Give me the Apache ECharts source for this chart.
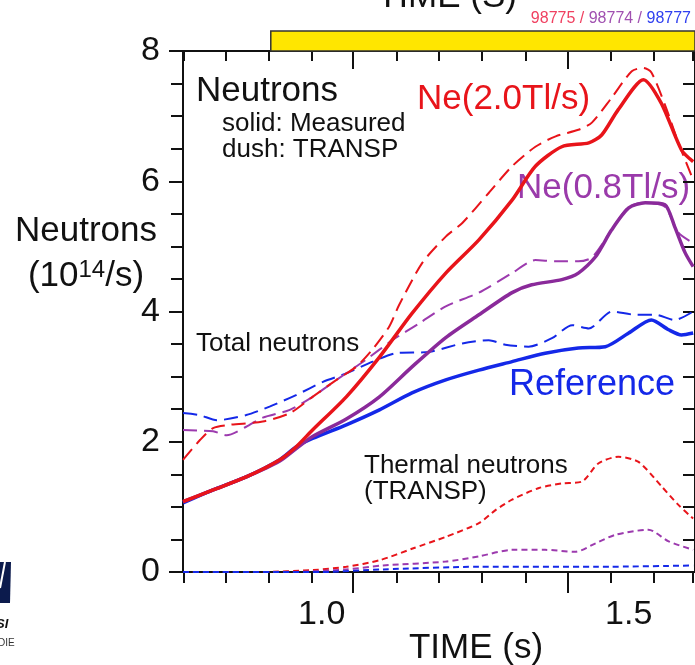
<!DOCTYPE html>
<html><head><meta charset="utf-8">
<script src="https://cdn.jsdelivr.net/npm/echarts@6/dist/echarts.min.js"></script>
<style>html,body{margin:0;padding:0;background:#fff}#c{width:695px;height:665px}</style>
</head><body><div id="c"></div>
<script>
// ---- axes ----
const xMin = 0.774, xMax = 1.608;
const xLabelValues = [1.0, 1.5];
const xTickValues = [0.775, 0.843, 0.914, 0.984, 1.051, 1.122, 1.190, 1.261, 1.332, 1.401, 1.470, 1.541, 1.604];
const xLongTickValues = [1.051, 1.401];
const yMin = 0, yMax = 8, yLabelStep = 2;
const beamWindow = [0.917, 1.608];

// ---- series: [time (s), neutrons (1e14/s)] ----
const ne20Measured = [[0.774,1.08],[0.823,1.26],[0.877,1.46],[0.931,1.72],[0.958,1.92],[0.985,2.18],[1.040,2.69],[1.094,3.30],[1.147,3.97],[1.202,4.59],[1.256,5.10],[1.310,5.71],[1.348,6.23],[1.391,6.53],[1.435,6.59],[1.456,6.71],[1.483,7.10],[1.524,7.56],[1.553,7.20],[1.586,6.48],[1.605,6.30]];
const ne20Transp = [[0.774,1.72],[0.802,2.03],[0.823,2.21],[0.850,2.26],[0.904,2.31],[0.948,2.44],[0.985,2.69],[1.024,2.95],[1.056,3.15],[1.082,3.41],[1.110,3.77],[1.126,4.10],[1.164,4.75],[1.202,5.15],[1.229,5.36],[1.272,5.82],[1.310,6.23],[1.348,6.53],[1.381,6.69],[1.418,6.79],[1.440,6.90],[1.472,7.28],[1.505,7.69],[1.524,7.74],[1.537,7.67],[1.560,7.15],[1.581,6.59],[1.605,6.02]];
const ne08Measured = [[0.774,1.08],[0.823,1.26],[0.877,1.46],[0.931,1.70],[0.959,1.90],[0.985,2.08],[1.040,2.35],[1.094,2.69],[1.147,3.15],[1.202,3.60],[1.256,3.95],[1.310,4.29],[1.342,4.41],[1.391,4.49],[1.418,4.59],[1.446,4.84],[1.472,5.25],[1.500,5.59],[1.527,5.67],[1.559,5.64],[1.575,5.30],[1.592,4.90],[1.605,4.69]];
const ne08Transp = [[0.774,2.18],[0.823,2.16],[0.845,2.10],[0.877,2.23],[0.904,2.37],[0.948,2.49],[0.985,2.69],[1.024,2.95],[1.072,3.26],[1.115,3.56],[1.159,3.82],[1.202,4.08],[1.256,4.29],[1.310,4.59],[1.348,4.79],[1.381,4.77],[1.418,4.77],[1.440,4.83],[1.472,5.25],[1.500,5.61],[1.527,5.67],[1.559,5.61],[1.581,5.21],[1.605,5.05]];
const refMeasured = [[0.774,1.06],[0.823,1.26],[0.877,1.46],[0.931,1.72],[0.958,1.92],[0.985,2.05],[1.040,2.26],[1.094,2.49],[1.147,2.75],[1.202,2.95],[1.256,3.10],[1.310,3.23],[1.364,3.36],[1.418,3.44],[1.462,3.46],[1.500,3.67],[1.537,3.87],[1.565,3.72],[1.586,3.64],[1.605,3.67]];
const refTransp = [[0.774,2.44],[0.801,2.41],[0.829,2.33],[0.877,2.41],[0.915,2.54],[0.959,2.72],[1.002,2.92],[1.040,3.05],[1.083,3.23],[1.121,3.36],[1.175,3.38],[1.229,3.51],[1.272,3.56],[1.299,3.49],[1.337,3.46],[1.375,3.59],[1.408,3.79],[1.435,3.74],[1.473,4.00],[1.511,3.95],[1.543,3.95],[1.575,3.87],[1.605,4.00]];
const ne20Thermal = [[0.774,0],[0.900,0],[0.986,0.03],[1.040,0.08],[1.094,0.18],[1.148,0.36],[1.202,0.54],[1.256,0.75],[1.283,0.95],[1.310,1.11],[1.354,1.29],[1.391,1.36],[1.424,1.39],[1.451,1.67],[1.483,1.77],[1.516,1.69],[1.554,1.31],[1.581,1.03],[1.605,0.82]];
const ne08Thermal = [[0.774,0],[0.950,0],[1.040,0.04],[1.100,0.10],[1.202,0.16],[1.256,0.24],[1.310,0.34],[1.364,0.34],[1.413,0.31],[1.446,0.44],[1.478,0.57],[1.532,0.65],[1.565,0.47],[1.605,0.34]];
const refThermal = [[0.774,0],[1.000,0],[1.100,0.04],[1.256,0.08],[1.450,0.08],[1.605,0.10]];

const RED = '#e8141a', PURPLE = '#8a2a9a', PURPLE_L = '#9c3aae', BLUE = '#1428e8';
const FONT = '"Liberation Sans", Arial, Helvetica, sans-serif';

function line(name, data, color, width, dash) {
  return {
    name, type: 'line', data, xAxisIndex: 0, yAxisIndex: 0,
    showSymbol: false, smooth: 0.25, animation: false,
    lineStyle: { color, width, type: dash || 'solid', cap: 'butt' },
    z: dash ? 3 : 4
  };
}

const chart = echarts.init(document.getElementById('c'), null, { renderer: 'canvas' });
const axisLine = { show: true, lineStyle: { color: '#111', width: 2 } };
chart.setOption({
  animation: false,
  backgroundColor: '#fff',
  textStyle: { fontFamily: FONT },
  grid: [
    { left: 183, right: -2, top: 51, bottom: 93, containLabel: false },
    { left: 183, right: -2, top: 31, height: 20, containLabel: false }
  ],
  xAxis: [
    { gridIndex: 0, type: 'value', position: 'bottom', min: xMin, max: xMax,
      axisLine, splitLine: { show: false },
      axisTick: { show: true, inside: false, length: 11, customValues: xTickValues, lineStyle: { color: '#111', width: 2 } },
      axisLabel: { show: true, customValues: xLabelValues, formatter: v => v.toFixed(1), fontSize: 34, color: '#111', margin: 26, fontFamily: FONT } },
    { gridIndex: 0, type: 'value', position: 'bottom', min: xMin, max: xMax,
      axisLine: { show: false }, splitLine: { show: false }, axisLabel: { show: false },
      axisTick: { show: true, inside: false, length: 21, customValues: xLongTickValues, lineStyle: { color: '#111', width: 2 } } },
    { gridIndex: 0, type: 'value', position: 'top', min: xMin, max: xMax,
      axisLine, splitLine: { show: false }, axisLabel: { show: false },
      axisTick: { show: true, inside: true, length: 10, customValues: xTickValues, lineStyle: { color: '#111', width: 2 } } },
    { gridIndex: 0, type: 'value', position: 'top', min: xMin, max: xMax,
      axisLine: { show: false }, splitLine: { show: false }, axisLabel: { show: false },
      axisTick: { show: true, inside: true, length: 18, customValues: xLongTickValues, lineStyle: { color: '#111', width: 2 } } },
    { gridIndex: 1, type: 'value', min: xMin, max: xMax, show: false }
  ],
  yAxis: [
    { gridIndex: 0, type: 'value', position: 'left', min: yMin, max: yMax, interval: yLabelStep,
      axisLine, splitLine: { show: false },
      axisTick: { show: true, inside: false, length: 14, lineStyle: { color: '#111', width: 2 } },
      minorTick: { show: true, splitNumber: 4, length: 12, lineStyle: { color: '#111', width: 2 } },
      axisLabel: { fontSize: 34, color: '#111', margin: 23, fontFamily: FONT } },
    { gridIndex: 0, type: 'value', position: 'right', min: yMin, max: yMax, interval: 0.5,
      axisLine, splitLine: { show: false }, axisLabel: { show: false },
      axisTick: { show: true, inside: true, length: 12, lineStyle: { color: '#111', width: 2 } } },
    { gridIndex: 1, type: 'value', min: 0, max: 1, show: false }
  ],
  series: [
    line('Ne(2.0) thermal', ne20Thermal, RED, 2, [6, 4]),
    line('Ne(0.8) thermal', ne08Thermal, PURPLE_L, 2, [6, 4]),
    line('Reference thermal', refThermal, BLUE, 2, [6, 4]),
    line('Reference TRANSP', refTransp, BLUE, 2, [14, 7]),
    line('Ne(0.8) TRANSP', ne08Transp, PURPLE_L, 2, [14, 7]),
    line('Ne(2.0) TRANSP', ne20Transp, RED, 2, [14, 7]),
    line('Reference measured', refMeasured, BLUE, 3.5),
    line('Ne(0.8) measured', ne08Measured, PURPLE, 3.5),
    line('Ne(2.0) measured', ne20Measured, RED, 3.5),
    { type: 'custom', xAxisIndex: 4, yAxisIndex: 2, data: [beamWindow], encode: { x: [0, 1] }, silent: true,
      renderItem: (p, api) => {
        const a = api.coord([api.value(0), 0]);
        const b = api.coord([api.value(1), 1]);
        return { type: 'rect', shape: { x: a[0], y: b[1], width: b[0] - a[0], height: a[1] - b[1] },
          style: { fill: '#ffe600', stroke: '#333', lineWidth: 1.5 } };
      } }
  ],
  graphic: [
    { type: 'text', x: 447, y: -3, style: { text: 'TIME (S)', font: '35px ' + FONT, fill: '#111', align: 'center', verticalAlign: 'middle' } },
    { type: 'text', x: 691, y: 19, style: { text: '{r|98775 / }{p|98774 / }{b|98777}', font: '16px ' + FONT, align: 'right', verticalAlign: 'middle',
        rich: { r: { fill: '#f04060', font: '16px ' + FONT }, p: { fill: '#a050b0', font: '16px ' + FONT }, b: { fill: '#3040f0', font: '16px ' + FONT } } } },
    { type: 'text', x: 476, y: 648, style: { text: 'TIME (s)', font: '35px ' + FONT, fill: '#111', align: 'center', verticalAlign: 'middle' } },
    { type: 'text', x: 86, y: 231, style: { text: 'Neutrons', font: '35px ' + FONT, fill: '#111', align: 'center', verticalAlign: 'middle' } },
    { type: 'text', x: 86, y: 276, style: { text: '(10{s|14}/s)', font: '35px ' + FONT, fill: '#111', align: 'center', verticalAlign: 'middle',
        rich: { s: { font: '24px ' + FONT, fill: '#111', verticalAlign: 'top', padding: [0, 0, 10, 0] } } } },
    { type: 'text', x: 196, y: 91, style: { text: 'Neutrons', font: '35px ' + FONT, fill: '#111', verticalAlign: 'middle' } },
    { type: 'text', x: 222, y: 124, style: { text: 'solid: Measured', font: '26px ' + FONT, fill: '#111', verticalAlign: 'middle' } },
    { type: 'text', x: 222, y: 150, style: { text: 'dush: TRANSP', font: '26px ' + FONT, fill: '#111', verticalAlign: 'middle' } },
    { type: 'text', x: 417, y: 99, style: { text: 'Ne(2.0Tl/s)', font: '35px ' + FONT, fill: RED, verticalAlign: 'middle' } },
    { type: 'text', x: 517, y: 188, style: { text: 'Ne(0.8Tl/s)', font: '35px ' + FONT, fill: '#9a3aaa', verticalAlign: 'middle' } },
    { type: 'text', x: 196, y: 344, style: { text: 'Total neutrons', font: '26px ' + FONT, fill: '#111', verticalAlign: 'middle' } },
    { type: 'text', x: 509, y: 385, style: { text: 'Reference', font: '36px ' + FONT, fill: BLUE, verticalAlign: 'middle' } },
    { type: 'text', x: 364, y: 466, style: { text: 'Thermal neutrons', font: '26px ' + FONT, fill: '#111', verticalAlign: 'middle' } },
    { type: 'text', x: 364, y: 492, style: { text: '(TRANSP)', font: '26px ' + FONT, fill: '#111', verticalAlign: 'middle' } },
    { type: 'polygon', shape: { points: [[0, 562], [11, 562], [10, 603], [0, 603]] }, style: { fill: '#0c1b4d' } },
    { type: 'line', shape: { x1: 5, y1: 562, x2: 0, y2: 588 }, style: { stroke: '#ffffff', lineWidth: 2 } },
    { type: 'text', x: -4, y: 624, style: { text: 'SI', font: 'italic bold 13px ' + FONT, fill: '#111', verticalAlign: 'middle' } },
    { type: 'text', x: -2, y: 643, style: { text: 'DIE', font: '10px ' + FONT, fill: '#333', verticalAlign: 'middle' } }
  ]
});
</script></body></html>
